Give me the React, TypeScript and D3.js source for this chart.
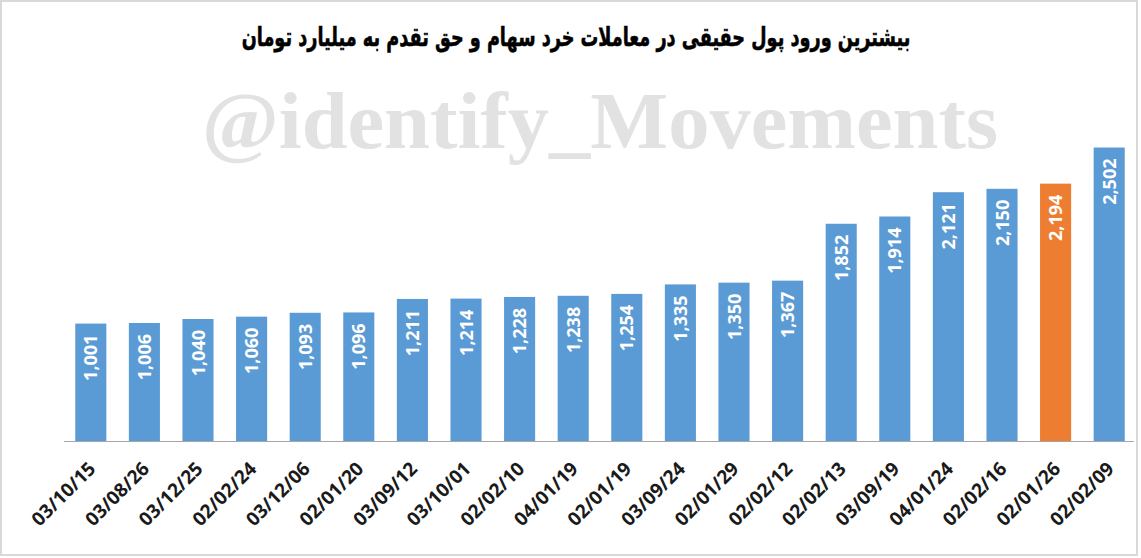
import React from "react";
import * as d3 from "d3";

const categories: string[] = [
  "03/10/15", "03/08/26", "03/12/25", "02/02/24", "03/12/06", "02/01/20", "03/09/12",
  "03/10/01", "02/02/10", "04/01/19", "02/01/19", "03/09/24", "02/01/29", "02/02/12",
  "02/02/13", "03/09/19", "04/01/24", "02/02/16", "02/01/26", "02/02/09",
];
const values: number[] = [
  1001, 1006, 1040, 1060, 1093, 1096, 1211, 1214, 1228, 1238, 1254, 1335, 1350, 1367,
  1852, 1914, 2121, 2150, 2194, 2502,
];
const highlighted: string[] = ["02/01/26"];
const title = "بیشترین ورود پول حقیقی در معاملات خرد سهام و حق تقدم به میلیارد تومان";
const watermark = "@identify_Movements";

const W = 1141;
const H = 558;
const baseY = 441;

export default function App() {
  const x = d3.scaleBand<string>().domain(categories).range([64, 1136]).paddingInner(0.42).paddingOuter(0.21);
  const y = d3.scaleLinear().domain([0, 3000]).range([baseY, baseY - 3000 * 0.1173]);
  const fmt = d3.format(",");
  return (
    <svg width={W} height={H} style={{ position: "absolute", left: 0, top: 0, background: "#fff" }}>
      <rect x={0} y={0} width={W} height={H} fill="#fff" />
      <rect x={1} y={1} width={1136} height={554} fill="#fff" stroke="#d9d9d9" strokeWidth={2} />
      <g transform="translate(576,46) scale(0.68,1)">
        <text
          x={0}
          y={0}
          textAnchor="middle"
          direction="rtl"
          fontFamily="'DejaVu Sans', sans-serif"
          fontWeight="bold"
          fontSize={26}
          fill="#000"
          stroke="#000"
          strokeWidth={0.6}
        >
          {title}
        </text>
      </g>
      <text
        x={600}
        y={148}
        textAnchor="middle"
        fontFamily="'Liberation Serif', serif"
        fontWeight="bold"
        fontSize={80}
        fill="#e2e2e2"
        textLength={796}
        lengthAdjust="spacingAndGlyphs"
      >
        {watermark}
      </text>
      <line x1={64} x2={1134} y1={baseY + 0.5} y2={baseY + 0.5} stroke="#a6a6a6" strokeWidth={1} />
      {categories.map((c, i) => {
        const bx = x(c)!;
        const bw = x.bandwidth();
        const top = y(values[i]);
        const cx = bx + bw / 2;
        return (
          <g key={c}>
            <rect
              x={bx}
              y={top}
              width={bw}
              height={baseY - top}
              fill={highlighted.includes(c) ? "#ed7d31" : "#5b9bd5"}
            />
            <text
              transform={`translate(${cx + 6.5},${top + 11}) rotate(-90)`}
              textAnchor="end"
              fontFamily="'Open Sans', sans-serif"
              fontWeight="bold"
              fontSize={18}
              fill="#fff"
            >
              {fmt(values[i])}
            </text>
            <text
              transform={`translate(${cx + 6},${470}) rotate(-45)`}
              textAnchor="end"
              fontFamily="'Open Sans', sans-serif"
              fontWeight="bold"
              fontSize={19}
              fill="#1a1a1a"
            >
              {c}
            </text>
          </g>
        );
      })}
    </svg>
  );
}
